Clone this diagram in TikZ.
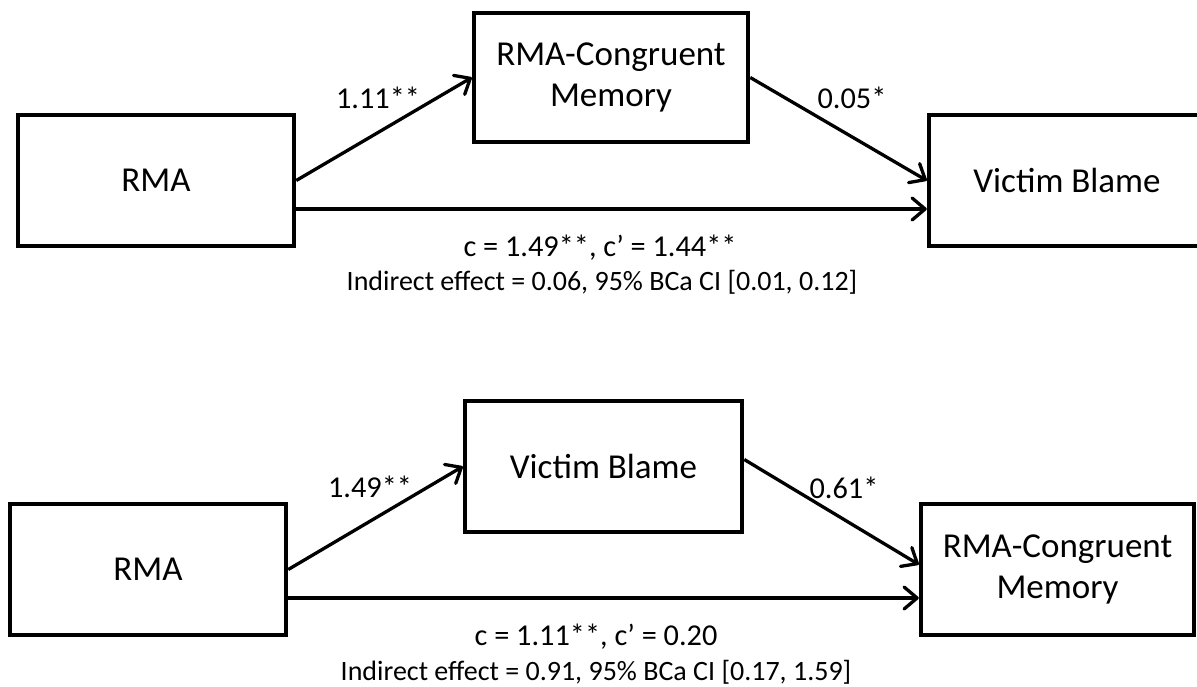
\documentclass[tikz,border=0pt]{standalone}
\usepackage{fontspec}
\setmainfont{Carlito}
\usetikzlibrary{arrows.meta}
\begin{document}
\begin{tikzpicture}[x=1pt,y=-1pt,
  box/.style={draw, line width=4.5pt, inner sep=0pt, align=center,
    font=\fontsize{35}{41}\selectfont, minimum height=131pt, minimum width=276pt},
  arr/.style={line width=3.3pt, -{Straight Barb[length=13pt,width=22pt,round]}},
  lab/.style={inner sep=0pt, font=\fontsize{30.3}{36}\selectfont},
  ind/.style={inner sep=0pt, font=\fontsize{28}{33}\selectfont}]
\useasboundingbox[fill=white] (0,0) rectangle (1197,686);
% top panel
\node[box] (rma1) at (156,180.5) {RMA};
\node[box, minimum width=274pt, minimum height=129pt] (cm1) at (611,77.5) {RMA-Congruent\\Memory};
\node[box] (vb1) at (1067,180.5) {Victim Blame};
\draw[arr] (rma1.east) -- (cm1.west);
\draw[arr] (cm1.east) -- (vb1.west);
\draw[arr] ([yshift=-28.5pt]rma1.east) -- ([yshift=-28.5pt]vb1.west);
\node[lab] (a1) at (378,98) {1.11**};
\node[lab] (b1) at (852,98) {0.05*};
\node[lab] (c1) at (600,248) {c = 1.49**, c’ = 1.44**};
\node[ind] (i1) at (602,282) {Indirect effect = 0.06, 95\% BCa CI [0.01, 0.12]};
% bottom panel
\node[box] (rma2) at (148,569.5) {RMA};
\node[box, minimum width=277pt] (vb2) at (603.5,466.5) {Victim Blame};
\node[box, minimum width=273pt] (cm2) at (1057.5,569.5) {RMA-Congruent\\Memory};
\draw[arr] (rma2.east) -- (vb2.west);
\draw[arr] ([yshift=7pt]vb2.east) -- ([yshift=5pt]cm2.west);
\draw[arr] ([yshift=-28.5pt]rma2.east) -- ([yshift=-28.5pt]cm2.west);
\node[lab] (a2) at (370,487) {1.49**};
\node[lab] (b2) at (844,488) {0.61*};
\node[lab] (c2) at (596,637) {c = 1.11**, c’ = 0.20};
\node[ind] (i2) at (596,672) {Indirect effect = 0.91, 95\% BCa CI [0.17, 1.59]};
\end{tikzpicture}
\end{document}
